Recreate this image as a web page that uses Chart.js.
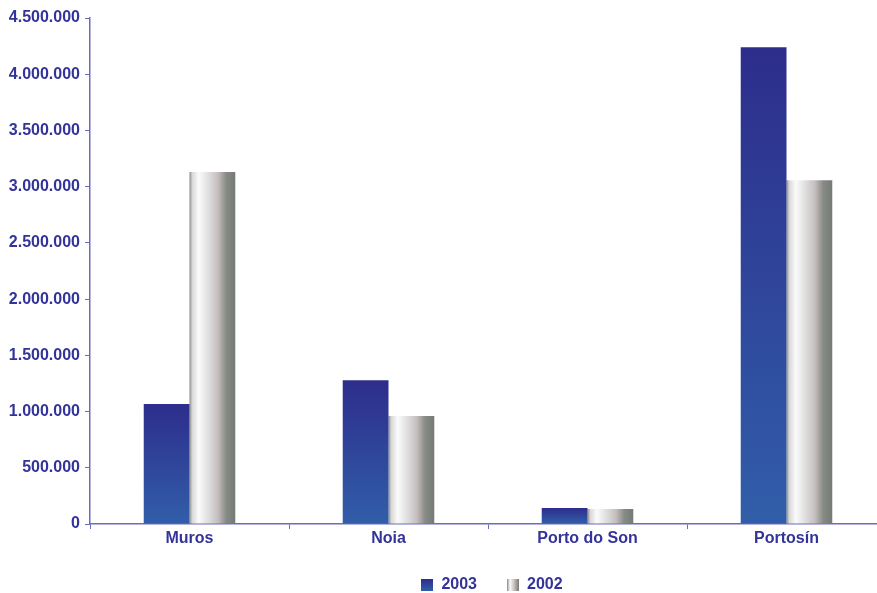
<!DOCTYPE html>
<html>
<head>
<meta charset="utf-8">
<script src="https://cdn.jsdelivr.net/npm/chart.js@4.4.1/dist/chart.umd.min.js"></script>
<style>
html,body{margin:0;padding:0;background:#fff;overflow:hidden;}
#wrap{width:887px;height:593px;}
</style>
</head>
<body>
<div id="wrap"><canvas id="myChart" width="887" height="593"></canvas></div>
<script>
// data
var places = ["Muros", "Noia", "Porto do Son", "Portosín"];
var years = ["2003", "2002"];
var data2003 = [1068000, 1278000, 142000, 4240000];
var data2002 = [3130000, 960000, 133000, 3058000];
var yTicksMax = 4500000;
var yStep = 500000;

var txtColor = "#333399";
var axisColor = "#6b6bbf";
var catPct = 0.46;

function fmt(v){
  return String(v).replace(/\B(?=(\d{3})+(?!\d))/g, ".");
}

// blue bar: vertical gradient per bar
function blueFill(ctx){
  var chart = ctx.chart;
  var y = chart.scales.y;
  if (!y || ctx.raw === undefined) return "#2e3a94";
  var top = y.getPixelForValue(ctx.raw);
  var bot = y.getPixelForValue(0);
  var g = chart.ctx.createLinearGradient(0, top, 0, bot);
  g.addColorStop(0, "#2d2d8c");
  g.addColorStop(1, "#315ea9");
  return g;
}

// grey bar: horizontal "cylinder" gradient
function greyFill(ctx){
  var chart = ctx.chart;
  var x = chart.scales.x;
  if (!x || ctx.dataIndex === undefined) return "#cccccc";
  var bw = x.width / places.length * catPct / 2;
  var left = x.getPixelForValue(ctx.dataIndex);
  var g = chart.ctx.createLinearGradient(left, 0, left + bw, 0);
  g.addColorStop(0, "#8a8a8a");
  g.addColorStop(0.06, "#d8d8d8");
  g.addColorStop(0.2, "#fbfbfb");
  g.addColorStop(0.4, "#e0e0e0");
  g.addColorStop(0.62, "#c6bebe");
  g.addColorStop(0.8, "#878b86");
  g.addColorStop(1, "#767a74");
  return g;
}

function legendBox(kind){
  var c = document.createElement("canvas");
  c.width = 12; c.height = 12;
  var k = c.getContext("2d");
  var g;
  if (kind == 0){
    g = k.createLinearGradient(0, 0, 0, 12);
    g.addColorStop(0, "#2d2d8c");
    g.addColorStop(1, "#315ea9");
  } else {
    g = k.createLinearGradient(0, 0, 12, 0);
    g.addColorStop(0, "#8a8a8a");
    g.addColorStop(0.25, "#fbfbfb");
    g.addColorStop(0.6, "#c6bebe");
    g.addColorStop(1, "#767a74");
  }
  k.fillStyle = g;
  k.fillRect(0, 0, 12, 12);
  return c;
}
var boxes = [legendBox(0), legendBox(1)];

// legend: fixed height, centred under the plot area
var legendTweak = {
  id: "legendTweak",
  afterInit: function(chart){
    var lg = chart.legend;
    var f = lg.fit;
    lg.fit = function(){ f.call(this); this.height = 44; };
  },
  afterLayout: function(chart){
    var lg = chart.legend;
    var shift = (chart.chartArea.left + chart.chartArea.right) / 2 - (lg.left + lg.right) / 2 + 4;
    lg.left += shift;
    lg.right += shift;
  }
};

let myChart = document.getElementById("myChart").getContext("2d");

let barChart = new Chart(myChart, {
  type: "bar",
  data: {
    labels: places,
    datasets: [{
      label: years[0],
      data: data2003,
      backgroundColor: blueFill,
      borderWidth: 0
    }, {
      label: years[1],
      data: data2002,
      backgroundColor: greyFill,
      borderWidth: 0
    }]
  },
  plugins: [legendTweak],
  options: {
    responsive: false,
    animation: false,
    datasets: {
      bar: {categoryPercentage: catPct, barPercentage: 1}
    },
    layout: {padding: {top: 18, right: 1, bottom: 2, left: 0}},
    plugins: {
      tooltip: {enabled: false},
      legend: {
        position: "bottom",
        labels: {
          color: txtColor,
          font: {family: "Liberation Sans, Arial", size: 16, weight: "bold"},
          usePointStyle: true,
          boxWidth: 12,
          boxHeight: 12,
          padding: 30,
          generateLabels: function(chart){
            return years.map(function(t, i){
              return {text: t, pointStyle: boxes[i], fillStyle: "#fff", strokeStyle: "#fff", lineWidth: 0, datasetIndex: i, fontColor: txtColor};
            });
          }
        }
      }
    },
    scales: {
      x: {
        grid: {drawOnChartArea: false, tickLength: 5, color: axisColor, tickColor: axisColor, offset: true},
        border: {color: axisColor, width: 1.5},
        ticks: {color: txtColor, font: {family: "Liberation Sans, Arial", size: 16, weight: "bold"}, padding: 0},
        afterFit: function(s){ s.height = 23; }
      },
      y: {
        min: 0,
        max: yTicksMax,
        grid: {drawOnChartArea: false, tickLength: 5, color: axisColor, tickColor: axisColor},
        border: {color: axisColor, width: 1.5},
        ticks: {
          stepSize: yStep,
          color: txtColor,
          padding: 5,
          font: {family: "Liberation Sans, Arial", size: 16, weight: "bold"},
          callback: function(v){ return fmt(v); }
        },
        afterFit: function(s){ s.width = 90; }
      }
    }
  }
});
</script>
</body>
</html>
